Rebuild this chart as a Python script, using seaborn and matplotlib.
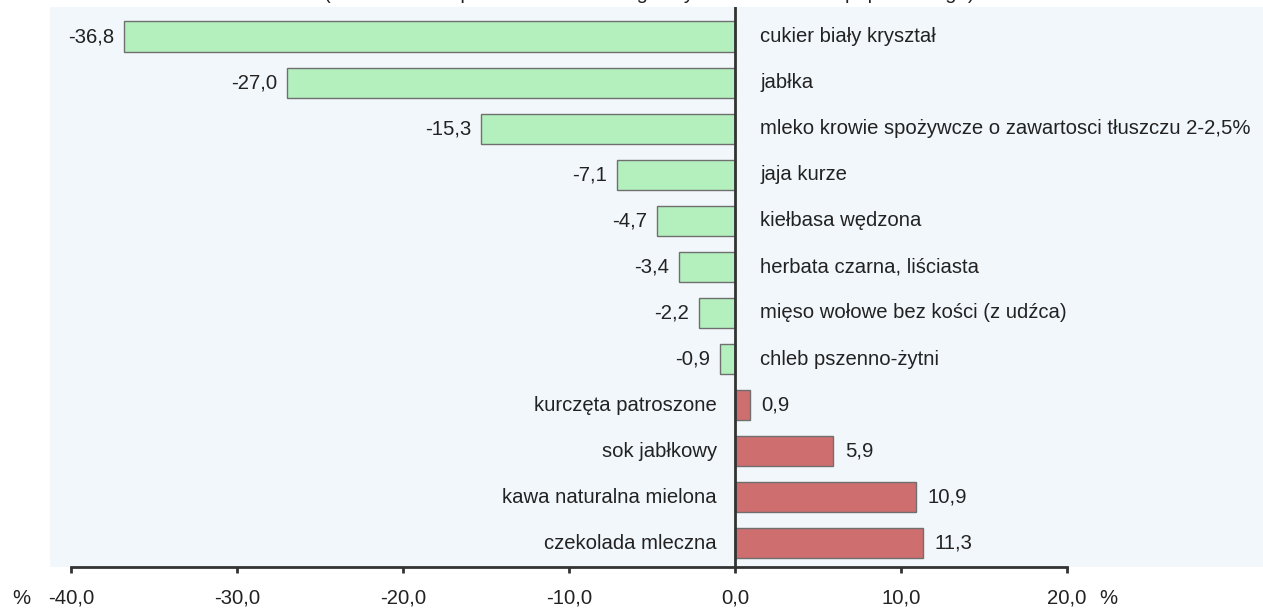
import matplotlib
matplotlib.use("Agg")
import matplotlib.pyplot as plt
import seaborn as sns
import pandas as pd

categories = [
    "cukier biały kryształ",
    "jabłka",
    "mleko krowie spożywcze o zawartosci tłuszczu 2-2,5%",
    "jaja kurze",
    "kiełbasa wędzona",
    "herbata czarna, liściasta",
    "mięso wołowe bez kości (z udźca)",
    "chleb pszenno-żytni",
    "kurczęta patroszone",
    "sok jabłkowy",
    "kawa naturalna mielona",
    "czekolada mleczna",
]
values = [-36.8, -27.0, -15.3, -7.1, -4.7, -3.4, -2.2, -0.9, 0.9, 5.9, 10.9, 11.3]
tick_values = [-40, -30, -20, -10, 0, 10, 20]
tick_labels = ["-40,0", "-30,0", "-20,0", "-10,0", "0,0", "10,0", "20,0"]
title_text = "(zmiana cen w porównaniu z analogicznym okresem roku poprzedniego)"

sns.set_theme(style="white")
plt.rcParams["font.family"] = ["Liberation Sans", "DejaVu Sans"]

df = pd.DataFrame({"cat": categories, "val": values})
df["sign"] = ["neg" if v < 0 else "pos" for v in values]

fig = plt.figure(figsize=(12.63, 6.12), dpi=100)
ax = fig.add_axes([50 / 1263, 45 / 612, 1 - 50 / 1263, 560 / 612])
ax.set_facecolor("#f2f7fb")

sns.barplot(data=df, x="val", y="cat", hue="sign", order=categories,
            palette={"neg": "#b3f0be", "pos": "#cf6e6e"}, dodge=False,
            legend=False, width=0.67, edgecolor="#6f6f6f", linewidth=1.0,
            saturation=1, orient="h", ax=ax)

ax.set_xlim(-41.27, 31.8)
ax.set_ylim(11.52, -0.65)
ax.axvline(0, color="#333333", linewidth=2, zorder=5)

fs = 14.6
tc = "#222222"
for i, (c, v) in enumerate(zip(categories, values)):
    lab = f"{v:.1f}".replace(".", ",")
    if v < 0:
        ax.text(v - 0.6, i, lab, ha="right", va="center", fontsize=fs, color=tc)
        ax.text(1.5, i, c, ha="left", va="center", fontsize=fs, color=tc)
    else:
        ax.text(v + 0.7, i, lab, ha="left", va="center", fontsize=fs, color=tc)
        ax.text(-1.1, i, c, ha="right", va="center", fontsize=fs, color=tc)

ax.set_yticks([])
ax.set_ylabel("")
ax.set_xlabel("")
for s in ["top", "right", "left"]:
    ax.spines[s].set_visible(False)
ax.spines["bottom"].set_bounds(-40, 20)
ax.spines["bottom"].set_color("#333333")
ax.spines["bottom"].set_linewidth(2)
ax.set_xticks(tick_values)
ax.set_xticklabels(tick_labels, fontsize=fs, color=tc)
ax.tick_params(axis="x", direction="out", length=4.5, width=2, color="#333333",
               pad=11, bottom=True)

ax.annotate("%", xy=(-40, 0), xycoords=("data", "axes fraction"),
            xytext=(-41, -21.5), textcoords="offset pixels", ha="right", va="top",
            fontsize=fs, color=tc)
ax.annotate("%", xy=(20, 0), xycoords=("data", "axes fraction"),
            xytext=(32, -21.5), textcoords="offset pixels", ha="left", va="top",
            fontsize=fs, color=tc)

fig.text(649 / 1263, 1 + 1 / 612, title_text, ha="center", va="baseline",
         fontsize=fs, color=tc)

fig.savefig("out.png", dpi=100)
